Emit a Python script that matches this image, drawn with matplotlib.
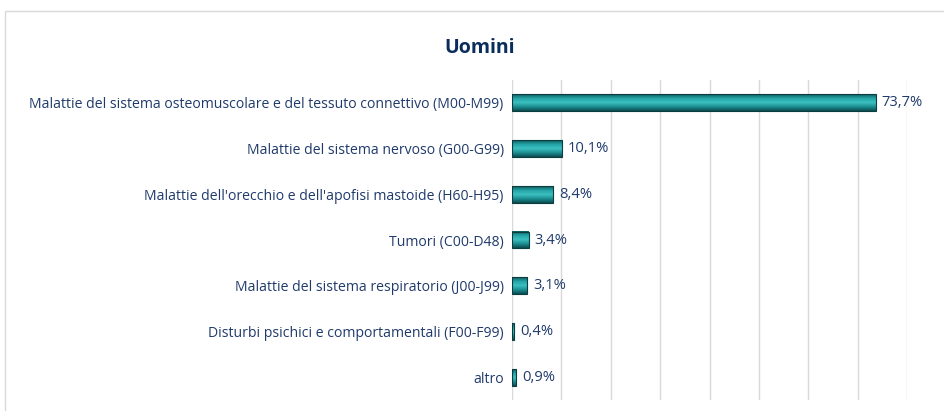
import numpy as np
import matplotlib
matplotlib.use('Agg')
import matplotlib.pyplot as plt
from matplotlib.patches import Rectangle
from matplotlib.colors import LinearSegmentedColormap

plt.rcParams['font.family'] = ['Open Sans', 'DejaVu Sans']

categories = [
    "Malattie del sistema osteomuscolare e del tessuto connettivo (M00-M99)",
    "Malattie del sistema nervoso (G00-G99)",
    "Malattie dell'orecchio e dell'apofisi mastoide (H60-H95)",
    "Tumori (C00-D48)",
    "Malattie del sistema respiratorio (J00-J99)",
    "Disturbi psichici e comportamentali (F00-F99)",
    "altro",
]
values = [73.7, 10.1, 8.4, 3.4, 3.1, 0.4, 0.9]
value_labels = ["73,7%", "10,1%", "8,4%", "3,4%", "3,1%", "0,4%", "0,9%"]

text_col = '#1f3a6b'
grid_col = '#d9d9d9'

fig = plt.figure(figsize=(9.44, 4.11), dpi=100)
ax = fig.add_axes([512 / 944, 1 - 400 / 411, (907 - 512) / 944, 320 / 411])

# outer frame
fig.patches.append(Rectangle((5 / 944, -0.1), 1.5, 1 - 11 / 411 + 0.1,
                             transform=fig.transFigure, fill=False,
                             edgecolor='#d9d9d9', lw=1))

y = np.arange(len(categories))
h = 0.37

# vertical gradient to fake the 3D bar look
cmap = LinearSegmentedColormap.from_list(
    'bar3d', ['#0f5a5e', '#23a4a6', '#3cc0c0', '#1b8e91', '#0c4c50'])
grad = np.linspace(0, 1, 64).reshape(-1, 1)

for yi, v in zip(y, values):
    ax.imshow(grad, aspect='auto', cmap=cmap,
              extent=(0, v, yi + h / 2, yi - h / 2), zorder=3)
    ax.add_patch(Rectangle((0, yi - h / 2), v, h, fill=False,
                           edgecolor='#0b3c3f', lw=0.8, zorder=4))

for yi, v, lab in zip(y, values, value_labels):
    ax.text(v + 1.2, yi, lab, va='center', ha='left', fontsize=10.6,
            color=text_col)

ax.set_xlim(0, 80)
ax.set_ylim(len(categories) - 0.5, -0.5)
ax.set_xticks(np.arange(0, 81, 10))
ax.set_xticklabels([])
ax.set_yticks(y)
ax.set_yticklabels(categories, fontsize=10.1, color=text_col)
ax.tick_params(axis='both', length=0, pad=6)
ax.grid(axis='x', color=grid_col, lw=1, zorder=0)
for s in ax.spines.values():
    s.set_visible(False)

fig.text(480 / 944, 1 - 48 / 411, 'Uomini', ha='center', va='center',
         fontsize=14, fontweight='bold', color='#0b2d5b')

fig.savefig('out.png', dpi=100)
